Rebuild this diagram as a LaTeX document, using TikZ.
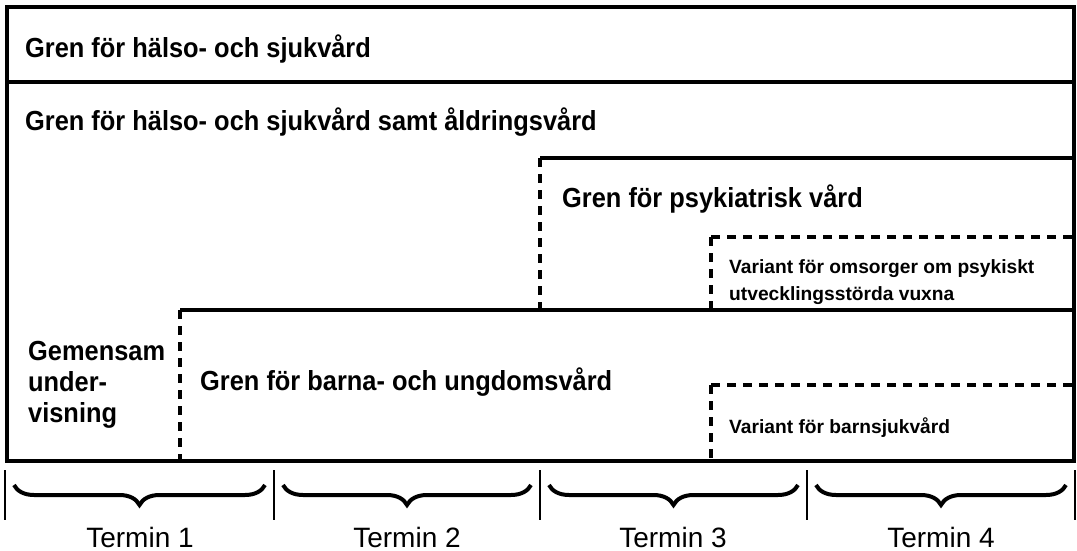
\documentclass[tikz,border=0pt]{standalone}
\usepackage{fontspec}
\setmainfont{Liberation Sans}
\newfontfamily\medfont[FakeStretch=0.92]{Liberation Sans Bold}
\usetikzlibrary{decorations.pathreplacing}
\newcommand{\linesof}[1]{\vtop{\halign{##\hfil\cr#1\cr}}}
\begin{document}
\begin{tikzpicture}[x=1pt,y=-1pt,
  solidline/.style={line width=3.6pt},
  dashline/.style={line width=3.2pt, dash pattern=on 9pt off 7pt},
  big/.style={font=\medfont\fontsize{27.6}{31}\selectfont, inner sep=0pt, anchor=base west},
  small/.style={font=\bfseries\fontsize{19.2}{27}\selectfont, inner sep=0pt, anchor=base west},
  term/.style={font=\fontsize{28}{30}\selectfont, inner sep=0pt, anchor=base},
  tickline/.style={line width=2.2pt},
  bracestyle/.style={decorate, decoration={brace, mirror, amplitude=20pt, aspect=0.5}, line width=4pt}
]
\useasboundingbox (0,0) rectangle (1077,551);
% frame and divisions
\coordinate (tl) at (7,7);
\coordinate (br) at (1074,461);
\draw[solidline] (tl) rectangle (br);
\draw[solidline] (7,82) -- (1074,82);
% psychiatric branch
\coordinate (ps) at (540,158);
\draw[solidline] (ps) -- (1074,158);
\draw[dashline] (ps) -- (540,310);
% variant psych
\coordinate (vp) at (711,237);
\draw[dashline] (vp) -- (1074,237);
\draw[dashline] (vp) -- (711,310);
% barna branch
\coordinate (bb) at (180,310);
\draw[solidline] (bb) -- (1074,310);
\draw[dashline] (bb) -- (180,461);
% variant barn
\coordinate (vb) at (711,385);
\draw[dashline] (vb) -- (1074,385);
\draw[dashline] (vb) -- (711,461);

% texts
\node[big] (t1) at (25,58) {Gren för hälso- och sjukvård};
\node[big] (t2) at (25,130) {Gren för hälso- och sjukvård samt åldringsvård};
\node[big] (t3) at (562,207) {Gren för psykiatrisk vård};
\node[small] (t4) at (729,273) {\linesof{Variant för omsorger om psykiskt\cr utvecklingsstörda vuxna}};
\node[big] (t5) at (28,360) {\linesof{Gemensam\cr under-\cr visning}};
\node[big] (t6) at (200,390) {Gren för barna- och ungdomsvård};
\node[small] (t7) at (729,433) {Variant för barnsjukvård};

% ticks
\foreach \x [count=\i] in {5,274,540,807,1075}{
  \coordinate (k\i) at (\x,470);
  \draw[tickline] (k\i) -- (\x,520);
}
% braces
\foreach \a/\b in {5/274,274/540,540/807,807/1075}{
  \draw[bracestyle] (\a+9,485) -- (\b-9,485);
}
\node[term] (m1) at (140,547) {Termin 1};
\node[term] (m2) at (407,547) {Termin 2};
\node[term] (m3) at (673,547) {Termin 3};
\node[term] (m4) at (941,547) {Termin 4};
\end{tikzpicture}
\end{document}
